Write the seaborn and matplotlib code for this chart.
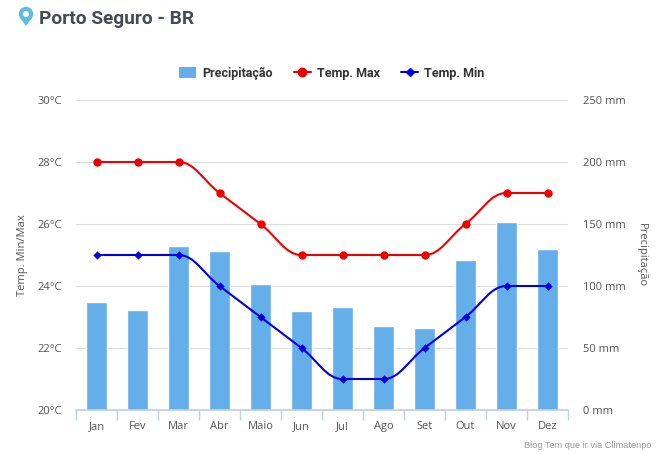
import seaborn as sns
import pandas as pd
import numpy as np
import matplotlib.pyplot as plt
from matplotlib.path import Path
from matplotlib.patches import PathPatch, Circle, Polygon, Patch
from matplotlib.lines import Line2D

meses = ['Jan', 'Fev', 'Mar', 'Abr', 'Maio', 'Jun', 'Jul', 'Ago', 'Set', 'Out', 'Nov', 'Dez']
precipitacao = [87, 81, 132, 128, 102, 80, 83, 68, 66, 121, 152, 130]
temp_max = [28, 28, 28, 27, 26, 25, 25, 25, 25, 26, 27, 27]
temp_min = [25, 25, 25, 24, 23, 22, 21, 21, 22, 23, 24, 24]
ticks_temp = [20, 22, 24, 26, 28, 30]
ticks_mm = [0, 50, 100, 150, 200, 250]

W, H = 664, 454
AZUL = '#64aeea'
CINZA = '#555555'
FONTE = 'Open Sans'


def spline_path(ys):
    # same bezier control points as a highcharts spline
    xs = list(range(len(ys)))
    verts = [(xs[0], ys[0])]
    codes = [Path.MOVETO]
    n = len(ys)
    sm, den = 1.5, 2.5
    conts = []
    for i in range(n):
        if i == 0 or i == n - 1:
            conts.append((xs[i], ys[i], xs[i], ys[i]))
            continue
        lx = (sm * xs[i] + xs[i - 1]) / den
        ly = (sm * ys[i] + ys[i - 1]) / den
        rx = (sm * xs[i] + xs[i + 1]) / den
        ry = (sm * ys[i] + ys[i + 1]) / den
        corr = (rx - xs[i]) * (ry - ly) / (rx - lx) + ys[i] - ry
        ly += corr
        ry += corr
        # keep the curve from overshooting
        if ly > ys[i - 1] and ly > ys[i]:
            ly = max(ys[i - 1], ys[i])
            ry = 2 * ys[i] - ly
        elif ly < ys[i - 1] and ly < ys[i]:
            ly = min(ys[i - 1], ys[i])
            ry = 2 * ys[i] - ly
        if ry > ys[i + 1] and ry > ys[i]:
            ry = max(ys[i + 1], ys[i])
            ly = 2 * ys[i] - ry
        elif ry < ys[i + 1] and ry < ys[i]:
            ry = min(ys[i + 1], ys[i])
            ly = 2 * ys[i] - ry
        conts.append((lx, ly, rx, ry))
    for i in range(1, n):
        verts += [(conts[i - 1][2], conts[i - 1][3]), (conts[i][0], conts[i][1]), (xs[i], ys[i])]
        codes += [Path.CURVE4] * 3
    return Path(verts, codes)


sns.set_theme(style='white')
plt.rcParams['font.family'] = [FONTE, 'DejaVu Sans']

df = pd.DataFrame({'mes': meses, 'pos': range(12), 'prec': precipitacao, 'max': temp_max, 'min': temp_min})

fig = plt.figure(figsize=(W / 100, H / 100), dpi=100)
ax_mm = fig.add_axes([76 / W, (H - 410) / H, 492 / W, 310 / H])

# bars and grid on the mm axis
sns.barplot(data=df, x='mes', y='prec', color=AZUL, saturation=1, width=21 / 41,
            edgecolor='white', linewidth=1, zorder=2, ax=ax_mm)
ax_mm.set_xlim(-0.5, 11.5)
ax_mm.set_ylim(0, 250)
ax_mm.set_xlabel('')
ax_mm.set_ylabel('')
ax_mm.set_xticks(np.arange(12))
ax_mm.set_xticklabels(meses, fontsize=8, color=CINZA)
ax_mm.tick_params(axis='x', length=0, pad=8)
ax_mm.set_xticks(np.arange(-0.5, 12), minor=True)
ax_mm.tick_params(axis='x', which='minor', length=7, width=1, color='#c0d0e0', bottom=True)
for lado in ['top', 'left', 'right']:
    ax_mm.spines[lado].set_visible(False)
ax_mm.spines['bottom'].set_color('#c0d0e0')

# temperature lines on top
ax_t = ax_mm.twinx()
ax_t.set_xlim(-0.5, 11.5)
ax_t.set_ylim(20, 30)
for serie, cor, marca, s in [('max', '#ee0000', 'o', 36), ('min', '#0000dd', 'D', 18)]:
    ax_t.add_patch(PathPatch(spline_path(df[serie].tolist()), fill=False, edgecolor=cor, linewidth=1.5, zorder=3))
    sns.scatterplot(data=df, x='pos', y=serie, color=cor, marker=marca, s=s, linewidth=0, zorder=4,
                    clip_on=False, legend=False, ax=ax_t)
ax_t.yaxis.tick_left()
ax_t.set_yticks(ticks_temp)
ax_t.set_yticklabels([f'{v}°C' for v in ticks_temp], fontsize=8, color=CINZA)
ax_t.tick_params(axis='y', length=0, pad=10)
ax_t.set_xlabel('')
ax_t.set_ylabel('')
for lado in ax_t.spines:
    ax_t.spines[lado].set_visible(False)

# twinx moves the ticks, so the mm side is set after it
ax_mm.yaxis.tick_right()
ax_mm.set_yticks(ticks_mm)
ax_mm.set_yticklabels([f'{v} mm' for v in ticks_mm], fontsize=8, color=CINZA)
ax_mm.yaxis.grid(True, color='#dcdcdc', linewidth=0.8, zorder=0)
ax_mm.set_axisbelow(True)
ax_mm.tick_params(axis='y', length=0, pad=11)

fig.text(23 / W, 1 - 255 / H, 'Temp. Min/Max', rotation=90, ha='center', va='center', fontsize=8, color=CINZA)
fig.text(641 / W, 1 - 255 / H, 'Precipitação', rotation=270, ha='center', va='center', fontsize=8, color=CINZA)
fig.text(652 / W, 1 - 445 / H, 'Blog Tem que ir via Climatenpo', ha='right', va='center', fontsize=6.6,
         color='#999999', family='Liberation Sans')
fig.text(39 / W, 1 - 24 / H, 'Porto Seguro - BR', ha='left', va='baseline', fontsize=13.8, fontweight='bold',
         color='#454b55', family='Roboto')

# legend
handles = [Patch(facecolor=AZUL, edgecolor='none'),
           Line2D([], [], color='#ee0000', linewidth=1.5, marker='o', markersize=6),
           Line2D([], [], color='#0000dd', linewidth=1.5, marker='D', markersize=4.5)]
fig.legend(handles, ['Precipitação', 'Temp. Max', 'Temp. Min'], loc='center', bbox_to_anchor=(331.5 / W, 1 - 73 / H),
           ncol=3, frameon=False, handlelength=1.4, handleheight=1.0, handletextpad=0.45, columnspacing=1.7,
           prop={'family': 'Roboto', 'weight': 'bold', 'size': 9}, labelcolor='#333333')

# map pin
pin = fig.add_axes([0, 0, 1, 1], zorder=5)
pin.set_xlim(0, W)
pin.set_ylim(H, 0)
pin.axis('off')
pin.add_patch(Polygon([(19.6, 17), (26, 26), (32.4, 17)], facecolor='#5bbde0', edgecolor='none'))
pin.add_patch(Circle((26, 14), 7.2, facecolor='#5bbde0', edgecolor='none'))
pin.add_patch(Circle((26, 14), 3, facecolor='white', edgecolor='none'))

plt.savefig('out.png', dpi=100)
